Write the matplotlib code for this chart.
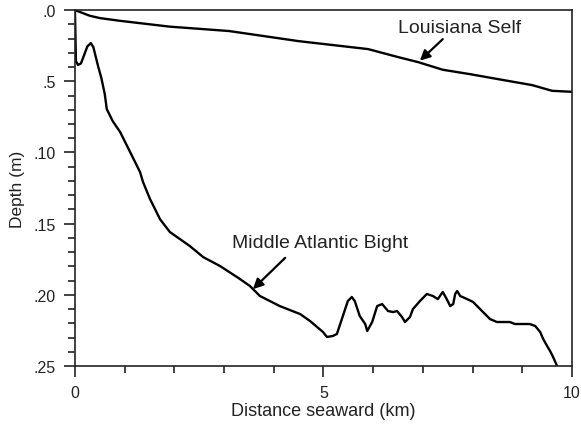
import matplotlib.pyplot as plt
import numpy as np

plt.rcParams['font.family'] = ['Liberation Sans', 'DejaVu Sans']

# Louisiana shelf profile (distance km, depth)
la_x = [0, 0.3, 0.5, 0.9, 1.9, 3.1, 4.5, 5.9, 6.5, 6.9, 7.4, 7.95, 8.4, 9.2, 9.6, 10.0]
la_depth = [0, 0.4, 0.56, 0.75, 1.16, 1.47, 2.18, 2.74, 3.3, 3.65, 4.19, 4.5, 4.78, 5.27, 5.67, 5.74]

# Middle Atlantic Bight profile
mab_x = [0, 0.02, 0.06, 0.12, 0.18, 0.25, 0.32, 0.37, 0.42, 0.47, 0.53, 0.60, 0.64, 0.76,
         0.91, 1.11, 1.31, 1.37, 1.51, 1.61, 1.71, 1.91, 2.11, 2.31, 2.58, 2.92, 3.32, 3.52,
         3.72, 4.12, 4.53, 4.73, 4.99, 5.07, 5.19, 5.27, 5.39, 5.49, 5.57, 5.63, 5.73, 5.84,
         5.88, 5.98, 6.08, 6.18, 6.30, 6.40, 6.48, 6.58, 6.64, 6.74, 6.80, 6.94, 7.08, 7.20,
         7.30, 7.40, 7.48, 7.55, 7.61, 7.65, 7.69, 7.75, 7.89, 8.01, 8.15, 8.25, 8.35, 8.49,
         8.75, 8.85, 9.15, 9.26, 9.36, 9.42, 9.50, 9.56, 9.62, 9.70]
mab_depth = [0, 3.58, 3.85, 3.75, 3.2, 2.55, 2.32, 2.6, 3.3, 4.0, 4.75, 5.9, 6.95, 7.8,
             8.57, 9.97, 11.38, 12.08, 13.27, 13.97, 14.68, 15.59, 16.08, 16.57, 17.35,
             17.98, 18.89, 19.38, 20.08, 20.79, 21.35, 21.84, 22.61, 22.96, 22.89, 22.75,
             21.49, 20.44, 20.15, 20.44, 21.49, 22.05, 22.54, 21.91, 20.79, 20.65, 21.14,
             21.21, 21.14, 21.56, 21.91, 21.56, 21.0, 20.44, 19.94, 20.08, 20.3, 19.8, 20.3,
             20.79, 20.65, 19.94, 19.73, 20.08, 20.3, 20.5, 21.0, 21.35, 21.7, 21.91, 21.91,
             22.05, 22.05, 22.19, 22.61, 23.1, 23.6, 23.95, 24.37, 25.0]

x_ticks = [0, 5, 10]
y_ticks = [0, 5, 10, 15, 20, 25]
y_ticklabels = ['.0', '.5', '.10', '.15', '.20', '.25']

fig = plt.figure(figsize=(5.81, 4.27), dpi=100)
ax = fig.add_axes([0.129, 0.1405, 0.8555, 0.8335])

ax.plot(la_x, la_depth, color='black', lw=1.7, solid_joinstyle='round')
ax.plot(mab_x, mab_depth, color='black', lw=1.7, solid_joinstyle='round')

ax.set_xlim(0, 10)
ax.set_ylim(25, 0)
ax.set_xticks(x_ticks)
ax.set_xticks(np.arange(0, 11, 1), minor=True)
ax.set_yticks(y_ticks)
ax.set_yticklabels(y_ticklabels)
ax.set_yticks(np.arange(0, 26, 1), minor=True)

ax.tick_params(which='major', length=8, width=1.2, labelsize=11.5, colors='#222222', pad=6)
ax.tick_params(which='minor', length=5, width=1.2, colors='#222222')
for s in ax.spines.values():
    s.set_linewidth(1.2)
    s.set_color('#222222')

ax.set_xlabel('Distance seaward (km)', fontsize=13, color='#222222', labelpad=1)
ax.set_ylabel('Depth (m)', fontsize=12.5, color='#222222', labelpad=6)

# labels and their pointer arrows
arrow = dict(arrowstyle='-|>,head_length=0.6,head_width=0.3',
             color='black', lw=1.6, shrinkA=0, shrinkB=0)
ax.text(7.73, 1.19, 'Louisiana Self', ha='center', va='center', fontsize=14, color='#222222')
ax.annotate('', xy=(6.94, 3.55), xytext=(7.4, 2.04), arrowprops=arrow)
ax.text(4.93, 16.3, 'Middle Atlantic Bight', ha='center', va='center', fontsize=14, color='#222222')
ax.annotate('', xy=(3.58, 19.6), xytext=(4.23, 17.4), arrowprops=arrow)

fig.savefig('out.png', dpi=100)
